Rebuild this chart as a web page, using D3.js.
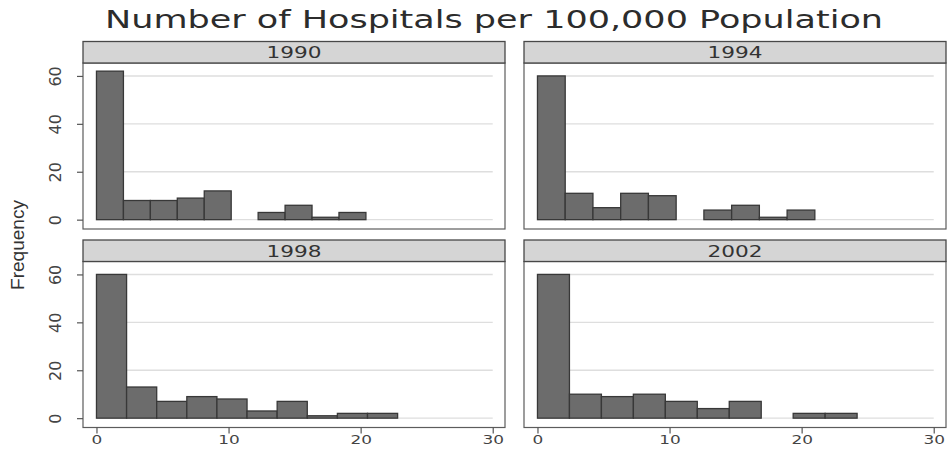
<!DOCTYPE html>
<html>
<head>
<meta charset="utf-8">
<script src="https://cdn.jsdelivr.net/npm/d3@7/dist/d3.min.js"></script>
<style>
  html, body { margin: 0; padding: 0; background: #fff; }
  svg { display: block; }
</style>
</head>
<body>
<svg id="chart" width="948" height="449"></svg>
<script>
// Histogram counts per year (10 equal-width bins starting at 0)
const years = ["1990", "1994", "1998", "2002"];
const binStarts = [0, 0, 0, 0];
const binWidths = [2.04, 2.1, 2.28, 2.42];
const counts1990 = [62, 8, 8, 9, 12, 0, 3, 6, 1, 3];
const counts1994 = [60, 11, 5, 11, 10, 0, 4, 6, 1, 4];
const counts1998 = [60, 13, 7, 9, 8, 3, 7, 1, 2, 2];
const counts2002 = [60, 10, 9, 10, 7, 4, 7, 0, 2, 2];
const yTickValues = [0, 20, 40, 60];
const xTickValues = [0, 10, 20, 30];
const titleText = "Number of Hospitals per 100,000 Population";
const yAxisTitle = "Frequency";

const allCounts = [counts1990, counts1994, counts1998, counts2002];

const svg = d3.select("#chart");

// Panel geometry (2 x 2 grid)
const colX = [83, 524];
const panelW = 422;
const stripTop = [41.5, 240];
const stripH = 21.5;
const plotH = 166;

const xDomain = [-1.02, 30.93];
const yDomain = [-3.9, 65.4];

const barFill = "#6c6c6c";
const barStroke = "#383838";
const gridColor = "#dedede";
const frameColor = "#5c5c5c";
const textColor = "#333";

// Title, set in a wide face
svg.append("text")
  .attr("x", 494)
  .attr("y", 28)
  .attr("text-anchor", "middle")
  .attr("font-family", "DejaVu Sans")
  .attr("font-size", 25)
  .attr("fill", "#2c2c2c")
  .attr("textLength", 778)
  .attr("lengthAdjust", "spacingAndGlyphs")
  .text(titleText);

// Shared y axis title
svg.append("text")
  .attr("transform", "translate(24,245) rotate(-90)")
  .attr("text-anchor", "middle")
  .attr("font-family", "Liberation Sans")
  .attr("font-size", 18)
  .attr("fill", textColor)
  .attr("textLength", 90)
  .attr("lengthAdjust", "spacingAndGlyphs")
  .text(yAxisTitle);

years.forEach((year, i) => {
  const col = i % 2;
  const row = Math.floor(i / 2);
  const left = colX[col];
  const sTop = stripTop[row];
  const pTop = sTop + stripH;
  const pBottom = pTop + plotH;

  const x = d3.scaleLinear().domain(xDomain).range([left, left + panelW]);
  const y = d3.scaleLinear().domain(yDomain).range([pBottom, pTop]);

  const g = svg.append("g");

  // Plot region
  g.append("rect")
    .attr("x", left).attr("y", pTop)
    .attr("width", panelW).attr("height", plotH)
    .attr("fill", "#fff")
    .attr("stroke", frameColor)
    .attr("stroke-width", 1.2);

  // Horizontal grid lines spanning the x axis range
  g.selectAll("line.grid")
    .data(yTickValues)
    .join("line")
    .attr("class", "grid")
    .attr("x1", x(xTickValues[0]))
    .attr("x2", x(xTickValues[xTickValues.length - 1]))
    .attr("y1", d => y(d))
    .attr("y2", d => y(d))
    .attr("stroke", gridColor)
    .attr("stroke-width", 1.4);

  // Bars
  const bins = allCounts[i].map((c, k) => ({
    x0: binStarts[i] + k * binWidths[i],
    x1: binStarts[i] + (k + 1) * binWidths[i],
    count: c
  })).filter(b => b.count > 0);

  g.selectAll("rect.bar")
    .data(bins)
    .join("rect")
    .attr("class", "bar")
    .attr("x", d => x(d.x0))
    .attr("width", d => x(d.x1) - x(d.x0))
    .attr("y", d => y(d.count))
    .attr("height", d => y(0) - y(d.count))
    .attr("fill", barFill)
    .attr("stroke", barStroke)
    .attr("stroke-width", 1.3);

  // Strip with the year
  g.append("rect")
    .attr("x", left).attr("y", sTop)
    .attr("width", panelW).attr("height", stripH)
    .attr("fill", "#d5d5d5")
    .attr("stroke", "#484848")
    .attr("stroke-width", 1.3);

  g.append("text")
    .attr("x", left + panelW / 2)
    .attr("y", sTop + stripH / 2 + 5.8)
    .attr("text-anchor", "middle")
    .attr("font-family", "DejaVu Sans")
    .attr("font-size", 16)
    .attr("fill", textColor)
    .attr("textLength", 55)
    .attr("lengthAdjust", "spacingAndGlyphs")
    .text(year);

  // Y axis on the left column
  if (col === 0) {
    const yAxis = d3.axisLeft(y)
      .tickValues(yTickValues)
      .tickSize(6)
      .tickPadding(3)
      .tickFormat(d3.format("d"));
    const ya = g.append("g")
      .attr("transform", `translate(${left},0)`)
      .call(yAxis);
    ya.select(".domain").remove();
    ya.selectAll(".tick line").attr("stroke", "#555").attr("stroke-width", 1.2);
    ya.selectAll(".tick text")
      .attr("font-family", "DejaVu Sans")
      .attr("font-size", 16)
      .attr("fill", "#444")
      .attr("x", null).attr("dy", null)
      .attr("text-anchor", "middle")
      .attr("transform", "translate(-22,0) rotate(-90)");
  }

  // X axis on the bottom row
  if (row === 1) {
    const xAxis = d3.axisBottom(x)
      .tickValues(xTickValues)
      .tickSize(6)
      .tickPadding(3)
      .tickFormat(d3.format("d"));
    const xa = g.append("g")
      .attr("transform", `translate(0,${pBottom})`)
      .call(xAxis);
    xa.select(".domain").remove();
    xa.selectAll(".tick line").attr("stroke", "#555").attr("stroke-width", 1.2);
    xa.selectAll(".tick text")
      .attr("font-family", "DejaVu Sans")
      .attr("font-size", 13)
      .attr("fill", "#444")
      .attr("dy", null)
      .attr("y", 17)
      .attr("transform", "scale(1.3,1)")
      .attr("transform-origin", "0 0");
  }
});
</script>
</body>
</html>
